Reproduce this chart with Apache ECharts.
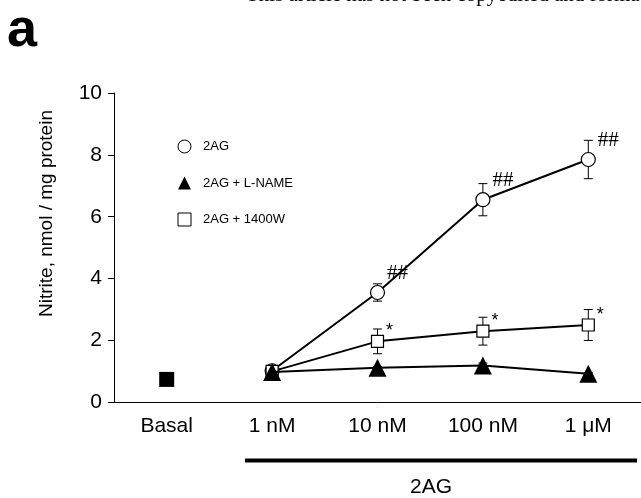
<!DOCTYPE html>
<html><head><meta charset="utf-8">
<script src="https://cdn.jsdelivr.net/npm/echarts@6/dist/echarts.min.js"></script>
<style>html,body{margin:0;padding:0;background:#fff}#c{width:641px;height:498px}</style>
</head><body><div id="c"></div>
<script>
const categories = ['Basal', '1 nM', '10 nM', '100 nM', '1 \u03bcM'];
const basalVals = [0.74, null, null, null, null];
const agVals = [null, 1.02, 3.55, 6.55, 7.85];
const agErr = [null, 0.05, 0.28, 0.52, 0.62];
const lnameVals = [null, 0.98, 1.12, 1.19, 0.92];
const lnameErr = [null, 0.03, 0.04, 0.08, 0.04];
const w1400Vals = [null, 1.00, 1.97, 2.30, 2.50];
const w1400Err = [null, 0.05, 0.40, 0.45, 0.50];
const agSig = ['', '', '##', '##', '##'];
const w1400Sig = ['', '', '*', '*', '*'];
const seriesNames = ['2AG', '2AG + L-NAME', '2AG + 1400W'];
const yMin = 0, yMax = 10, yStep = 2;

const SANS = 'Liberation Sans, Arial, sans-serif';
const SERIF = 'Liberation Serif, Times New Roman, serif';

function errData(vals, errs) {
  const out = [];
  vals.forEach((v, i) => { if (v != null) out.push([i, v - errs[i], v + errs[i]]); });
  return out;
}
function errSeries(vals, errs) {
  return {
    type: 'custom', z: 1, silent: true,
    encode: { x: 0, y: [1, 2] },
    data: errData(vals, errs),
    renderItem: function (params, api) {
      const x = api.value(0);
      const lo = api.coord([x, api.value(1)]);
      const hi = api.coord([x, api.value(2)]);
      const c = 4.5, st = { stroke: '#000', lineWidth: 1 };
      return { type: 'group', children: [
        { type: 'line', shape: { x1: lo[0], y1: lo[1], x2: hi[0], y2: hi[1] }, style: st },
        { type: 'line', shape: { x1: lo[0] - c, y1: lo[1], x2: lo[0] + c, y2: lo[1] }, style: st },
        { type: 'line', shape: { x1: hi[0] - c, y1: hi[1], x2: hi[0] + c, y2: hi[1] }, style: st }
      ] };
    }
  };
}
function withLabels(vals, sigs, lab) {
  return vals.map((v, i) => {
    if (v == null) return null;
    const item = { value: v };
    if (sigs && sigs[i]) {
      item.label = Object.assign({ show: true, formatter: sigs[i], position: 'inside', color: '#000' }, lab);
    }
    return item;
  });
}

const chart = echarts.init(document.getElementById('c'), null, { renderer: 'canvas' });
chart.setOption({
  animation: false,
  backgroundColor: '#fff',
  grid: { left: 114, right: -2, top: 93, bottom: 95.7, containLabel: false },
  xAxis: {
    type: 'category', data: categories, boundaryGap: true,
    axisLine: { lineStyle: { color: '#000', width: 1 } },
    axisTick: { alignWithLabel: true, length: 8, lineStyle: { color: '#000' } },
    axisLabel: { fontSize: 21, color: '#000', fontFamily: SANS, margin: 13 },
    splitLine: { show: false }
  },
  yAxis: {
    type: 'value', min: yMin, max: yMax, interval: yStep,
    axisLine: { show: true, lineStyle: { color: '#000', width: 1 } },
    axisTick: { show: true, length: 6, lineStyle: { color: '#000' } },
    axisLabel: { fontSize: 21, color: '#000', fontFamily: SANS, margin: 12 },
    splitLine: { show: false }
  },
  legend: {
    orient: 'vertical', left: 172.5, top: 134.5,
    itemWidth: 13, itemHeight: 13, itemGap: 23,
    textStyle: { fontSize: 13, color: '#000', fontFamily: SANS, padding: [0, 0, 0, 7] },
    selectedMode: false,
    data: [
      { name: seriesNames[0], icon: 'circle', itemStyle: { color: '#fff', borderColor: '#000', borderWidth: 1 } },
      { name: seriesNames[1], icon: 'triangle', itemStyle: { color: '#000', borderColor: '#000', borderWidth: 0 } },
      { name: seriesNames[2], icon: 'rect', itemStyle: { color: '#fff', borderColor: '#000', borderWidth: 1 } }
    ]
  },
  series: [
    errSeries(agVals, agErr),
    errSeries(w1400Vals, w1400Err),
    errSeries(lnameVals, lnameErr),
    {
      name: 'Basal', type: 'scatter', symbol: 'rect', symbolSize: 15, z: 3,
      itemStyle: { color: '#000', opacity: 1 }, data: basalVals
    },
    {
      name: seriesNames[0], type: 'line', symbol: 'circle', symbolSize: 14, showAllSymbol: true, z: 3,
      lineStyle: { color: '#000', width: 2 },
      itemStyle: { color: '#fff', borderColor: '#000', borderWidth: 1.2 },
      data: withLabels(agVals, agSig, { offset: [20, -19], fontSize: 21, fontFamily: SERIF })
    },
    {
      name: seriesNames[2], type: 'line', symbol: 'rect', symbolSize: 12, showAllSymbol: true, z: 4,
      lineStyle: { color: '#000', width: 2 },
      itemStyle: { color: '#fff', borderColor: '#000', borderWidth: 1.2 },
      data: withLabels(w1400Vals, w1400Sig, { offset: [12, -10], fontSize: 18, fontFamily: SANS })
    },
    {
      name: seriesNames[1], type: 'line', symbol: 'triangle', symbolSize: 18, showAllSymbol: true, z: 5,
      lineStyle: { color: '#000', width: 2 },
      itemStyle: { color: '#000' },
      data: withLabels(lnameVals, null, {})
    }
  ],
  graphic: [
    { type: 'text', left: 7, top: 4, style: { text: 'a', font: 'bold 54px ' + SANS, fill: '#000' } },
    { type: 'text', x: 246, y: -15, style: { text: 'This article has not been copyedited and formatted. The final version may differ.', font: '21px ' + SERIF, fill: '#000', textVerticalAlign: 'top' } },
    { type: 'text', x: 47, y: 213.5, rotation: Math.PI / 2, style: { text: 'Nitrite, nmol / mg protein', font: '19px ' + SANS, fill: '#000', textAlign: 'center', textVerticalAlign: 'middle' } },
    { type: 'line', shape: { x1: 245, y1: 460.5, x2: 637, y2: 460.5 }, style: { stroke: '#000', lineWidth: 4 } },
    { type: 'text', x: 431, y: 487, style: { text: '2AG', font: '21px ' + SANS, fill: '#000', textAlign: 'center', textVerticalAlign: 'middle' } }
  ]
});
</script></body></html>
